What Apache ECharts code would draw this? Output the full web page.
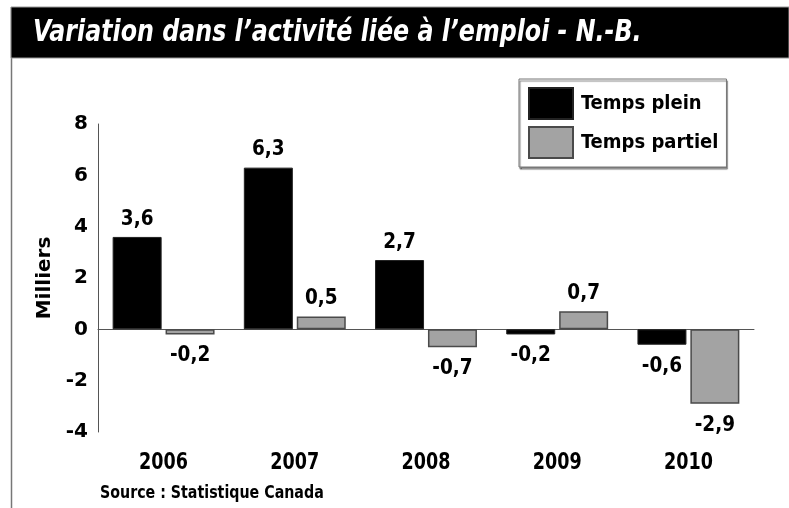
<!DOCTYPE html>
<html>
<head>
<meta charset="utf-8">
<script src="https://cdn.jsdelivr.net/npm/echarts@6/dist/echarts.min.js"></script>
<style>
  html, body { margin: 0; padding: 0; background: #fff; }
  #chart { width: 789px; height: 508px; }
</style>
</head>
<body>
<div id="chart"></div>
<script>
// data
const years = ['2006', '2007', '2008', '2009', '2010'];
const tempsPlein = [3.6, 6.3, 2.7, -0.2, -0.6];
const tempsPartiel = [-0.2, 0.5, -0.7, 0.7, -2.9];
const yTicks = [-4, -2, 0, 2, 4, 6, 8];

const narrow = "'Liberation Sans Narrow', 'DejaVu Sans Condensed', sans-serif";

// labels above positive bars, below negative ones
function withLabels(vals) {
  return vals.map(v => ({
    value: v,
    label: { position: v < 0 ? 'bottom' : 'top', distance: v < 0 ? 11 : 7 }
  }));
}
const fmt = p => String(p.value).replace('.', ',');

const myChart = echarts.init(document.getElementById('chart'));
const option = {
  animation: false,
  backgroundColor: '#fff',
  grid: { left: 98, right: 35, top: 124, bottom: 76 },
  legend: {
    orient: 'vertical',
    left: 519, top: 79,
    padding: [8, 8, 8, 9],
    icon: 'rect',
    itemWidth: 44, itemHeight: 31, itemGap: 6,
    borderColor: '#777', borderWidth: 1,
    backgroundColor: '#fff',
    shadowColor: 'rgba(0,0,0,0.5)', shadowOffsetX: 1, shadowOffsetY: 2, shadowBlur: 1,
    textStyle: { fontFamily: narrow, fontSize: 20, fontWeight: 'bold', color: '#000', padding: [0, 0, 0, 3] },
    data: ['Temps plein', 'Temps partiel']
  },
  xAxis: {
    type: 'category',
    data: years,
    axisLine: { onZero: true, lineStyle: { color: '#555', width: 1 } },
    axisTick: { show: false },
    axisLabel: { show: false }
  },
  yAxis: {
    type: 'value',
    min: yTicks[0], max: yTicks[yTicks.length - 1], interval: 2,
    name: 'Milliers',
    nameLocation: 'middle',
    nameGap: 41,
    nameTextStyle: { fontFamily: "'DejaVu Sans', sans-serif", fontSize: 20, fontWeight: 'bold', color: '#000' },
    axisLine: { show: true, lineStyle: { color: '#555', width: 1 } },
    axisTick: { show: false },
    splitLine: { show: false },
    axisLabel: { fontFamily: "'DejaVu Sans', sans-serif", fontSize: 20, fontWeight: 'bold', color: '#000', margin: 10 }
  },
  graphic: [
    { type: 'line', shape: { x1: 11.5, y1: 7, x2: 11.5, y2: 508 }, style: { stroke: '#777', lineWidth: 1.5 } },
    { type: 'rect', shape: { x: 11, y: 7, width: 778, height: 51 }, style: { fill: '#000', stroke: '#999', lineWidth: 1 } },
    { type: 'text', x: 33, y: 33, scaleX: 0.88,
      style: { text: 'Variation dans l\u2019activit\u00e9 li\u00e9e \u00e0 l\u2019emploi - N.-B.', fill: '#fff',
        font: "italic bold 30px " + narrow, verticalAlign: 'middle' } },
    { type: 'text', x: 100, y: 494, scaleX: 0.93,
      style: { text: 'Source : Statistique Canada', fill: '#000', font: "bold 17px " + narrow, verticalAlign: 'middle' } }
  ].concat(years.map((y, i) => ({
    type: 'text',
    x: 98 + (656 / years.length) * (i + 0.5),
    y: 463,
    scaleX: 0.85,
    style: { text: y, fill: '#000', font: "bold 23px " + narrow, align: 'center', verticalAlign: 'middle' }
  }))),
  series: [
    {
      name: 'Temps plein', type: 'bar',
      data: withLabels(tempsPlein),
      barWidth: 49, barGap: '8%',
      itemStyle: { color: '#000', borderColor: '#222', borderWidth: 1 },
      label: { show: true, formatter: fmt, fontFamily: narrow, fontSize: 20.5, fontWeight: 'bold', color: '#000' }
    },
    {
      name: 'Temps partiel', type: 'bar',
      data: withLabels(tempsPartiel),
      barWidth: 49,
      itemStyle: { color: '#a3a3a3', borderColor: '#4a4a4a', borderWidth: 1.5 },
      label: { show: true, formatter: fmt, fontFamily: narrow, fontSize: 20.5, fontWeight: 'bold', color: '#000' }
    }
  ]
};
myChart.setOption(option);
</script>
</body>
</html>
